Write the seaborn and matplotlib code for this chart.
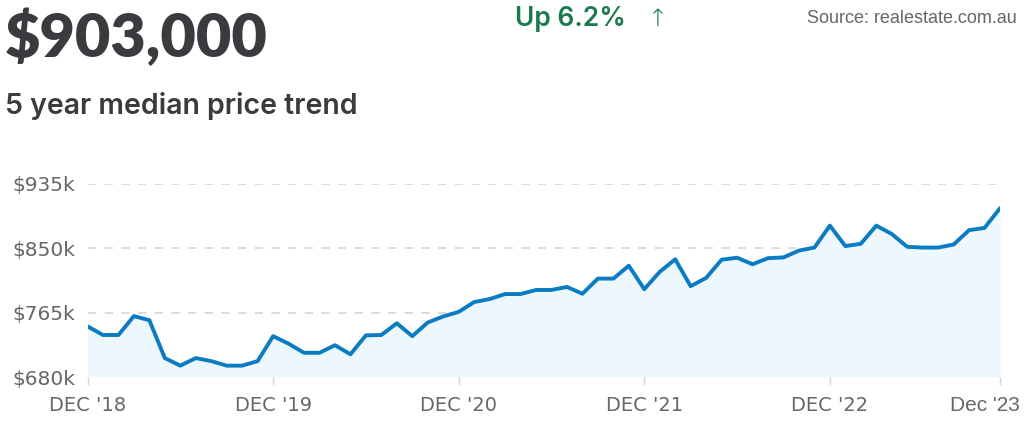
import numpy as np
import pandas as pd
import matplotlib
matplotlib.use('Agg')
import matplotlib.pyplot as plt
import matplotlib.transforms as mtransforms
import seaborn as sns

# 数据：月度中位价（千元），从 Dec '18 到 Dec '23
months = list(range(60))
price_k = [747, 735.5, 735.5, 760.5, 755, 705, 695, 705, 701, 695,
           695, 701, 734, 724, 712, 712, 722, 710, 735, 735.5,
           751, 734, 752, 760, 766, 779, 783, 789.6, 789.6, 795,
           795, 799, 790, 810, 810, 827, 796, 819, 835.5, 800,
           811, 835, 837.6, 829, 837, 838, 847, 851, 880, 853,
           856, 880, 869, 852, 851, 851, 855, 874, 877, 903]
tick_pos = [0, 12, 24, 36, 48, 59]
tick_labels = ["DEC '18", "DEC '19", "DEC '20", "DEC '21", "DEC '22", "Dec '23"]
y_ticks = [680, 765, 850, 935]
y_labels = ['$680k', '$765k', '$850k', '$935k']

df = pd.DataFrame({'month': months, 'price': price_k})

sns.set_theme(style='white')
plt.rcParams['font.family'] = ['DejaVu Sans']

line_c = '#0B7CC1'
fill_c = '#EDF8FE'
dark = '#3B3A3E'
grey = '#666666'

fig = plt.figure(figsize=(10.24, 4.22), dpi=100)
ax = fig.add_axes([87.5 / 1024, 45 / 422, (1000 - 87.5) / 1024, (377 - 184) / 422])

# 网格线（虚线）
for v in y_ticks:
    ax.axhline(v, color='#D6D6D6', lw=1.2, ls=(0, (5, 5)), zorder=0)

ax.fill_between(df['month'], df['price'], 680, color=fill_c, lw=0, zorder=1)
sns.lineplot(data=df, x='month', y='price', ax=ax, color=line_c, lw=2.8,
             zorder=3, solid_joinstyle='round', solid_capstyle='round')

ax.set_xlim(0, 59)
ax.set_ylim(680, 935)
ax.set_xticks(tick_pos)
ax.set_xticklabels(tick_labels)
ax.set_yticks(y_ticks)
ax.set_yticklabels(y_labels)
ax.set_xlabel('')
ax.set_ylabel('')
for s in ax.spines.values():
    s.set_visible(False)
ax.tick_params(axis='x', length=6, width=1, color='#D6D6D6', pad=8,
               labelsize=14, labelcolor=grey, direction='out', bottom=True)
ax.tick_params(axis='y', length=0, pad=9, labelsize=14.5, labelcolor=grey)
ax.grid(False)

# 最后一个标签字体不同，并向左偏移
last = ax.get_xticklabels()[-1]
last.set_family(['Liberation Sans', 'DejaVu Sans'])
last.set_fontsize(15)
last.set_transform(last.get_transform() +
                   mtransforms.ScaledTranslation(-15 / 100, 0, fig.dpi_scale_trans))

# 标题文字
fig.text(5 / 1024, 1 - 57 / 422, '$903,000', fontsize=44, fontweight='heavy',
         color=dark, family=['Lato', 'DejaVu Sans'])
fig.text(5 / 1024, 1 - 114 / 422, '5 year median price trend', fontsize=20.5,
         fontweight='semibold', color=dark, family=['Inter', 'DejaVu Sans'])
fig.text(515 / 1024, 1 - 26 / 422, 'Up 6.2%', fontsize=19, fontweight='semibold',
         color='#1B7A4C', family=['Inter', 'DejaVu Sans'])
fig.text(648 / 1024, 1 - 26 / 422, '↑', fontsize=17, fontweight='light',
         color='#1B7A4C', family=['DejaVu Sans'])
fig.text(1017 / 1024, 1 - 23 / 422, 'Source: realestate.com.au', fontsize=13,
         color=grey, ha='right', family=['Liberation Sans', 'DejaVu Sans'])

plt.savefig('out.png', dpi=100)
